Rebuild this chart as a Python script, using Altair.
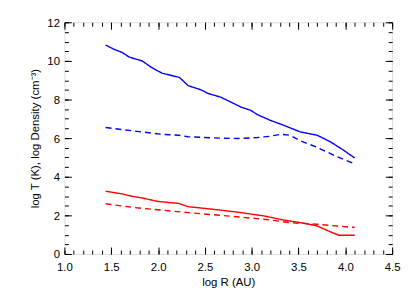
import altair as alt
import pandas as pd

# ---- data ----
blue_solid_x = [1.44, 1.53, 1.62, 1.69, 1.83, 1.93, 2.04, 2.23, 2.32, 2.46, 2.53, 2.67, 2.78, 2.89, 2.99, 3.06, 3.20, 3.34, 3.52, 3.70, 3.84, 3.98, 4.10]
blue_solid_y = [10.82, 10.6, 10.43, 10.2, 10.0, 9.66, 9.37, 9.14, 8.72, 8.5, 8.32, 8.12, 7.86, 7.6, 7.44, 7.22, 6.92, 6.67, 6.32, 6.15, 5.81, 5.38, 4.97]

blue_dash_x = [1.44, 1.62, 1.83, 2.04, 2.22, 2.32, 2.67, 2.85, 3.06, 3.20, 3.31, 3.41, 3.52, 3.70, 3.91, 4.10]
blue_dash_y = [6.55, 6.44, 6.32, 6.2, 6.15, 6.07, 6.0, 5.98, 6.03, 6.1, 6.2, 6.15, 5.86, 5.52, 5.04, 4.67]

red_solid_x = [1.44, 1.62, 1.72, 1.83, 2.0, 2.22, 2.32, 2.5, 2.67, 2.89, 3.06, 3.13, 3.34, 3.56, 3.70, 3.84, 3.93, 4.10]
red_solid_y = [3.25, 3.11, 2.99, 2.9, 2.72, 2.62, 2.45, 2.36, 2.27, 2.14, 2.02, 1.97, 1.76, 1.59, 1.45, 1.15, 0.97, 0.97]

red_dash_x = [1.44, 1.62, 1.83, 2.04, 2.32, 2.67, 3.06, 3.20, 3.41, 3.70, 3.91, 4.10]
red_dash_y = [2.6, 2.48, 2.36, 2.27, 2.14, 2.0, 1.83, 1.76, 1.62, 1.54, 1.45, 1.37]

x_major_ticks = [1.0, 1.5, 2.0, 2.5, 3.0, 3.5, 4.0, 4.5]
x_minor_ticks = [round(1.0 + 0.1 * i, 1) for i in range(36)]
y_major_ticks = [0, 2, 4, 6, 8, 10, 12]
y_minor_ticks = [round(0.5 * i, 1) for i in range(25)]

rows = []
for name, xs_, ys_ in [("density_solid", blue_solid_x, blue_solid_y),
                       ("density_dash", blue_dash_x, blue_dash_y),
                       ("temp_solid", red_solid_x, red_solid_y),
                       ("temp_dash", red_dash_x, red_dash_y)]:
    for i, (a, b) in enumerate(zip(xs_, ys_)):
        rows.append({"series": name, "x": a, "y": b, "order": i})
df = pd.DataFrame(rows)

FONT = "Liberation Sans"
MAJ = 7
MIN = 4


def axis(orient, values, size, show, title, fmt, lpad=4, tpad=5, loff=0):
    kw = dict(orient=orient, values=values, grid=False, domain=False,
              offset=-size, tickSize=size, tickColor="black", tickWidth=1,
              labels=show, ticks=True)
    if show:
        kw.update(labelOverlap=False, labelFlush=False, format=fmt,
                  labelFont=FONT, labelFontSize=11.5, labelColor="black",
                  labelPadding=lpad, labelOffset=loff,
                  title=title, titleFont=FONT, titleFontSize=11.5,
                  titleFontWeight="normal", titleColor="black", titlePadding=tpad)
    else:
        kw.update(title=None)
    return alt.Axis(**kw)


xs = alt.Scale(domain=[1.0, 4.5], nice=False, zero=False)
ys = alt.Scale(domain=[0, 12], nice=False, zero=False)

sdom = ["density_solid", "density_dash", "temp_solid", "temp_dash"]
color = alt.Color("series:N", legend=None, scale=alt.Scale(
    domain=sdom, range=["#0000ff", "#0000ff", "#ff0000", "#ff0000"]))
dash = alt.StrokeDash("series:N", legend=None, scale=alt.Scale(
    domain=sdom, range=[[1, 0], [6, 4], [1, 0], [6, 4]]))

lines = alt.Chart(df).mark_line(strokeWidth=1.4).encode(
    x=alt.X("x:Q", scale=xs, axis=axis("bottom", x_major_ticks, MAJ, True, "log R (AU)", ".1f",
                                       lpad=8, tpad=3)),
    y=alt.Y("y:Q", scale=ys, axis=axis("left", y_major_ticks, MAJ, True,
                                       "log T (K), log Density (cm⁻³)", "d",
                                       lpad=5, tpad=6, loff=1)),
    color=color, strokeDash=dash, detail="series:N", order="order:Q")


def ghost(xo, xv, xsz, yo, yv, ysz):
    return alt.Chart(df).mark_point(opacity=0).encode(
        x=alt.X("x:Q", scale=xs, axis=axis(xo, xv, xsz, False, None, None)),
        y=alt.Y("y:Q", scale=ys, axis=axis(yo, yv, ysz, False, None, None)))


layers = [
    lines,
    ghost("bottom", x_minor_ticks, MIN, "left", y_minor_ticks, MIN),
    ghost("top", x_major_ticks, MAJ, "right", y_major_ticks, MAJ),
    ghost("top", x_minor_ticks, MIN, "right", y_minor_ticks, MIN),
]

chart = alt.layer(*layers).resolve_axis(x="independent", y="independent").properties(
    width=331, height=234,
    autosize=alt.AutoSizeParams(type="none"),
    padding={"left": 57, "top": 13, "right": 15, "bottom": 40},
).configure_view(stroke="black", strokeWidth=1).configure(background="white")

chart.save("out.html", embed_options={"renderer": "svg", "actions": False})
